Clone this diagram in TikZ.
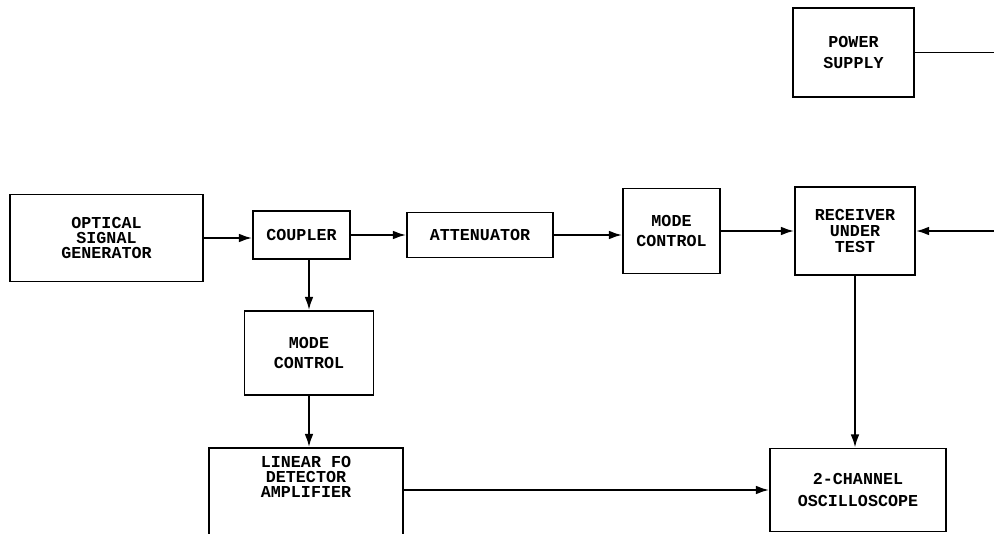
\documentclass[tikz,border=0pt]{standalone}
\usepackage{fontspec}
\setmonofont{Liberation Mono}
\usetikzlibrary{arrows.meta, positioning}

\begin{document}
\begin{tikzpicture}[
  x=0.02cm, y=-0.02cm,
  blk/.style={rectangle, draw, line width=1.1pt, inner sep=0pt, align=center,
              font=\ttfamily\bfseries\fontsize{9.5}{8.7}\selectfont},
  blkwide/.style={blk, font=\ttfamily\bfseries\fontsize{9.5}{11.5}\selectfont},
  arr/.style={-{Latex[length=7.5pt,width=5pt]}, line width=1.1pt},
  wire/.style={line width=1.1pt}
]
  \useasboundingbox (0,0) rectangle (994,534);

  % top supply
  \node[blkwide, minimum width=2.42cm, minimum height=1.78cm] (pwr) at (853.5,52.5) {POWER\\SUPPLY};

  % main optical path
  \node[blk, minimum width=3.86cm, minimum height=1.74cm] (gen) at (106.5,238) {OPTICAL\\SIGNAL\\GENERATOR};
  \node[blk, minimum width=1.94cm, minimum height=0.96cm] (coupler) at (301.5,235) {COUPLER};
  \node[blk, minimum width=2.92cm, minimum height=0.90cm] (atten) at (480,235) {ATTENUATOR};
  \node[blkwide, minimum width=1.94cm, minimum height=1.70cm] (mcA) at (671.5,231) {MODE\\CONTROL};
  \node[blk, font=\ttfamily\bfseries\fontsize{9.5}{9.3}\selectfont,
        minimum width=2.40cm, minimum height=1.76cm] (rx) at (855,231) {RECEIVER\\UNDER\\TEST};

  % reference branch
  \node[blkwide, minimum width=2.58cm, minimum height=1.68cm] (mcB) at (309,353) {MODE\\CONTROL};
  \node[blk, minimum width=3.88cm, minimum height=2.64cm] (lin) at (306,514) {};
  \node[blk, draw=none] (linlbl) at (306,477) {LINEAR FO\\DETECTOR\\AMPLIFIER};
  \node[blk, font=\ttfamily\bfseries\fontsize{9.5}{13}\selectfont,
        minimum width=3.52cm, minimum height=1.66cm] (osc) at (858,490) {2-CHANNEL\\OSCILLOSCOPE};

  \coordinate (pwrend) at (994,52.5);
  \coordinate (rxin) at (994,231);

  \draw[wire] (pwr.east) -- (pwrend);
  \draw[arr] (gen.east) -- (gen.east -| coupler.west);
  \draw[arr] (coupler.east) -- (coupler.east -| atten.west);
  \draw[arr] (atten.east) -- (atten.east -| mcA.west);
  \draw[arr] (mcA.east) -- (mcA.east -| rx.west);
  \draw[arr] (rxin) -- (rx.east);
  \draw[arr] (coupler.south -| mcB.north) -- (mcB.north);
  \draw[arr] (mcB.south) -- (mcB.south |- lin.north);
  \draw[arr] (rx.south) -- (rx.south |- osc.north);
  \draw[arr] (lin.east |- osc.west) -- (osc.west);
\end{tikzpicture}
\end{document}
